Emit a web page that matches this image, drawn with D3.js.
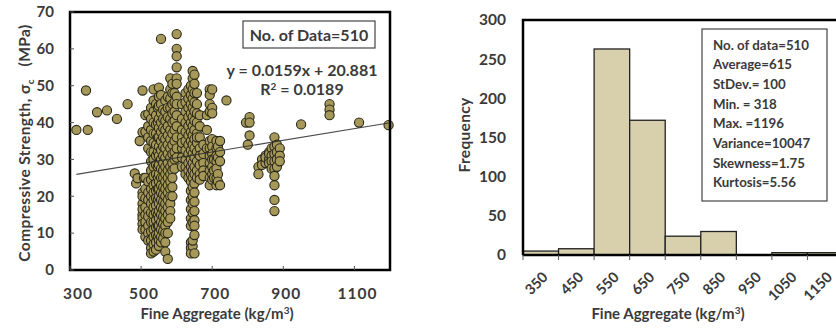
<!DOCTYPE html>
<html>
<head>
<meta charset="utf-8">
<script src="https://cdn.jsdelivr.net/npm/d3@7"></script>
<style>
  html, body { margin: 0; padding: 0; background: #fff; }
  svg { display: block; font-family: Lato, 'Open Sans', sans-serif; }
</style>
</head>
<body>
<div id="chart"></div>
<script>
// fine aggregate (kg/m3) of each vertical cluster, and the strengths (MPa) read in it
const colX = [318, 345, 350, 376, 404, 432, 462, 482, 486, 490, 496, 504, 508, 512, 520, 528, 535, 542, 547, 550, 556, 562, 568, 575, 582, 588, 594, 600,
  615, 625, 633, 640, 645, 650, 657, 665, 675, 685, 693, 700, 705, 712, 716, 722, 740, 795, 800, 805, 830, 840, 850, 860, 867, 875, 882, 890, 950, 1030, 1113, 1196];
const colY = [
  [38], [48.7], [38], [42.8], [43.3], [41], [45], [26.2], [23.5], [24.9], [35], [48.7, 37.4, 21, 18, 15, 14, 12.5, 11, 16.5, 20], [25],
  [25, 22, 19.5, 17, 15, 13, 11, 9, 42, 37.5],
  [24, 21, 19, 16, 14.5, 12, 10, 8, 33, 36, 39, 42.3],
  [44, 41, 38, 35, 32, 29.5, 27, 24.5, 22, 20, 18, 15.5, 13, 10.5, 8, 6, 4.5],
  [49, 46, 43, 40, 37, 34.5, 32, 30, 28, 25.5, 23, 21, 19, 17, 15, 13, 11, 9, 7, 5],
  [45, 42, 39.5, 37, 34, 31, 28.5, 26, 23.5, 21.5, 19.5, 17.5, 15.5, 13.5, 11.5, 9.5, 7.5, 5.5],
  [44, 40, 36, 32, 28, 25, 22, 19, 15, 12, 9],
  [49.5, 47, 44.5, 41, 38.5, 36, 33.5, 31, 28.5, 26, 24, 22, 20, 18, 16, 14, 12, 10, 8, 6.5],
  [62.7, 47.5, 45, 42.5, 40, 37.5, 35, 32.5, 30, 27.5, 25, 23, 21, 19, 17, 15, 13, 11, 9, 7.5],
  [43.5, 41, 38.5, 36, 33.5, 31, 29, 27, 25, 22.5, 20.5, 18.5, 16.5, 14.5, 12.5, 10.5, 8.5],
  [46, 43, 40.5, 38, 35.5, 33, 30.5, 28, 26, 24, 22, 20, 18, 16, 14, 12, 10, 7.5, 5],
  [47, 44, 41.5, 39, 36.5, 34, 31.5, 29, 27, 25, 23, 21, 19, 17, 15, 13, 10, 3],
  [52, 49, 46.5, 44, 41, 38, 35.5, 33, 30.5, 28, 26, 24, 22, 20, 18, 16, 14],
  [50.5, 48, 45, 42.5, 40, 37, 34, 31.5, 29, 27, 25, 22.5, 20],
  [48, 45.5, 43, 40.5, 38, 35, 32, 30, 27.5],
  [64, 60, 58, 55, 52, 50.5, 47, 45, 42, 39, 36, 33, 30.5],
  [45, 41, 38, 36, 33, 30.5, 28, 34.5],
  [48, 45.5, 43, 40, 37.5, 35, 32.5, 30, 28, 26],
  [49, 46.5, 44, 41.5, 39, 36.5, 34, 31.5, 29, 27, 25],
  [50, 47.5, 45, 42.5, 40, 37.5, 35, 32.5, 30, 28, 26, 24, 21.5, 19, 16.5, 14, 12, 7.5, 6, 4.5],
  [54, 52, 49, 46.5, 44, 41.5, 39, 36.5, 34, 31.5, 29, 27, 25, 22.5, 20, 18, 15.5, 13, 6.5, 8],
  [53, 50.5, 48, 45.5, 43, 40.5, 38, 35.5, 33, 30.5, 28, 26, 23.5, 21, 18.5, 16, 13.5, 12, 9.5, 4.5],
  [48, 45, 42.5, 40, 37, 34.5, 32, 29.5, 27, 25, 36],
  [42, 39, 36, 33, 31, 28.5, 26, 24.5],
  [34, 31.5, 29, 27, 25.5],
  [42, 38, 33],
  [49, 47.5, 45, 43, 35, 33, 31, 29, 27, 25, 23],
  [49, 44, 42.5, 35.5, 33.5, 31.5, 30, 28, 26, 24.5],
  [30, 27, 25],
  [35, 33, 31, 29.5, 27.5, 25, 23],
  [33.5, 30.5, 26, 24],
  [35, 32, 29.5, 23],
  [46], [40], [34], [41.5, 40, 36.5], [28, 26], [30, 28.5], [31, 29, 30.5], [32, 30, 31.5, 29], [33, 31, 29.5, 27.5],
  [36, 33.5, 31.5, 29.5, 27.5, 25.5, 23, 19, 16], [34, 32, 30, 28], [33, 31, 29.5],
  [39.5], [45, 43.5, 42], [40], [39.3]
];
const trendSlope = 0.0159, trendIntercept = 20.881;
const xTicksL = [300, 500, 700, 900, 1100];
const yTicksL = [0, 10, 20, 30, 40, 50, 60, 70];

// histogram of fine aggregate
const binStart = [300, 400, 500, 600, 700, 800, 900, 1000, 1100];
const binCount = [5, 8, 263, 172, 24, 30, 0, 3, 3];
const binLabels = ['350', '450', '550', '650', '750', '850', '950', '1050', '1150'];
const yTicksR = [0, 50, 100, 150, 200, 250, 300];
const statLines = ['No. of data=510', 'Average=615', 'StDev.= 100', 'Min. = 318', 'Max. =1196', 'Variance=10047', 'Skewness=1.75', 'Kurtosis=5.56'];

const textCol = '#3a3a3a';

const svg = d3.select('#chart').append('svg')
  .attr('width', 836).attr('height', 329);

// ---------- left: scatter ----------
let x = d3.scaleLinear().domain([300, 1200]).range([70, 390]);
let y = d3.scaleLinear().domain([0, 70]).range([270, 12]);

const left = svg.append('g');

let pts = [];
colX.forEach((cx, i) => colY[i].forEach(v => pts.push([cx, v])));

left.append('g').selectAll('circle')
  .data(pts)
  .enter()
  .append('circle')
  .attr('cx', d => x(d[0]))
  .attr('cy', d => y(d[1]))
  .attr('r', 4.6)
  .attr('fill', '#a59858')
  .attr('stroke', '#2a2818')
  .attr('stroke-width', 1.1);

// trend line sits over the points, like the original
left.append('line')
  .attr('x1', x(318)).attr('y1', y(trendSlope * 318 + trendIntercept))
  .attr('x2', x(1196)).attr('y2', y(trendSlope * 1196 + trendIntercept))
  .attr('stroke', '#2a2a2a').attr('stroke-width', 1.1).attr('stroke-opacity', 0.85);

left.append('rect')
  .attr('x', 70).attr('y', 12).attr('width', 320).attr('height', 258)
  .attr('fill', 'none').attr('stroke', '#000').attr('stroke-width', 2.5);

left.append('g').selectAll('line')
  .data(yTicksL)
  .enter().append('line')
  .attr('x1', 70).attr('x2', 74)
  .attr('y1', d => y(d)).attr('y2', d => y(d))
  .attr('stroke', '#555');

left.append('g').selectAll('line')
  .data(xTicksL)
  .enter().append('line')
  .attr('x1', d => x(d)).attr('x2', d => x(d))
  .attr('y1', 270).attr('y2', 266)
  .attr('stroke', '#555');

left.append('g')
  .attr('font-size', 15).attr('font-weight', 700).attr('fill', textCol)
  .attr('text-anchor', 'end')
  .selectAll('text')
  .data(yTicksL)
  .enter().append('text')
  .attr('x', 54).attr('y', d => y(d)).attr('dy', '0.35em')
  .text(d => d);

left.append('g')
  .attr('font-size', 15.5).attr('font-weight', 700).attr('fill', textCol)
  .attr('text-anchor', 'middle').attr('letter-spacing', 1)
  .selectAll('text')
  .data(xTicksL)
  .enter().append('text')
  .attr('x', d => x(d) + (d === 300 ? 8 : 3)).attr('y', 299)
  .text(d => d);

left.append('text')
  .attr('x', 217).attr('y', 319)
  .attr('text-anchor', 'middle').attr('font-size', 15).attr('font-weight', 700).attr('fill', textCol)
  .html('Fine Aggregate (kg/m<tspan font-size="10" dy="-5">3</tspan><tspan dy="5">)</tspan>');

left.append('text')
  .attr('transform', 'translate(30,143) rotate(-90)')
  .attr('text-anchor', 'middle').attr('font-size', 15.5).attr('font-weight', 700).attr('fill', textCol)
  .attr('letter-spacing', 0.4)
  .html('Compressive Strength, σ<tspan font-size="10" dy="4">c</tspan><tspan dy="-4" xml:space="preserve">   (MPa)</tspan>');

left.append('rect')
  .attr('x', 243).attr('y', 21).attr('width', 132).attr('height', 27)
  .attr('fill', '#fff').attr('stroke', '#444').attr('stroke-width', 1.2);
left.append('text')
  .attr('x', 309).attr('y', 40.5).attr('text-anchor', 'middle')
  .attr('font-size', 16).attr('font-weight', 700).attr('fill', textCol)
  .text('No. of Data=510');

left.append('text')
  .attr('x', 302).attr('y', 75.5).attr('text-anchor', 'middle')
  .attr('font-size', 16).attr('font-weight', 700).attr('fill', textCol)
  .text(`y = ${trendSlope}x + ${trendIntercept}`);
left.append('text')
  .attr('x', 302).attr('y', 95).attr('text-anchor', 'middle')
  .attr('font-size', 16).attr('font-weight', 700).attr('fill', textCol)
  .html('R<tspan font-size="10" dy="-5">2</tspan><tspan dy="5"> = 0.0189</tspan>');

// ---------- right: histogram ----------
let xh = d3.scaleLinear().domain([300, 1200]).range([523, 843]);
let yh = d3.scaleLinear().domain([0, 300]).range([255, 20]);

const right = svg.append('g');

right.append('g').selectAll('rect')
  .data(binStart)
  .enter().append('rect')
  .attr('x', d => xh(d))
  .attr('y', (d, i) => yh(binCount[i]))
  .attr('width', d => xh(d + 100) - xh(d))
  .attr('height', (d, i) => yh(0) - yh(binCount[i]))
  .attr('fill', '#d8d0ad')
  .attr('stroke', '#222')
  .attr('stroke-width', 1.3);

right.append('path')
  .attr('d', `M${xh(300)},${yh(0)}V${yh(300)}H836`)
  .attr('fill', 'none').attr('stroke', '#000').attr('stroke-width', 2.5);
right.append('line')
  .attr('x1', xh(300)).attr('x2', 836).attr('y1', yh(0)).attr('y2', yh(0))
  .attr('stroke', '#000').attr('stroke-width', 2.5);

right.append('g').selectAll('line')
  .data(binStart.concat([1200]))
  .enter().append('line')
  .attr('x1', d => xh(d)).attr('x2', d => xh(d))
  .attr('y1', yh(0)).attr('y2', yh(0) + 5)
  .attr('stroke', '#555');

right.append('g')
  .attr('font-size', 15.5).attr('font-weight', 700).attr('fill', textCol)
  .attr('text-anchor', 'end')
  .selectAll('text')
  .data(yTicksR)
  .enter().append('text')
  .attr('x', 506).attr('y', d => yh(d)).attr('dy', '0.35em')
  .text(d => d);

right.append('g')
  .attr('font-size', 14.5).attr('font-weight', 700).attr('fill', textCol)
  .attr('text-anchor', 'end')
  .selectAll('text')
  .data(binStart)
  .enter().append('text')
  .attr('transform', (d, i) => `translate(${xh(d + 50) + 8},${yh(0) + 23}) rotate(-45)`)
  .text((d, i) => binLabels[i]);

right.append('text')
  .attr('x', 668).attr('y', 319)
  .attr('text-anchor', 'middle').attr('font-size', 15).attr('font-weight', 700).attr('fill', textCol)
  .html('Fine Aggregate (kg/m<tspan font-size="10" dy="-5">3</tspan><tspan dy="5">)</tspan>');

right.append('text')
  .attr('transform', 'translate(470,135) rotate(-90)')
  .attr('text-anchor', 'middle').attr('font-size', 15.5).attr('font-weight', 700).attr('fill', textCol)
  .attr('letter-spacing', 0.3)
  .text('Frequency');

right.append('rect')
  .attr('x', 702).attr('y', 29).attr('width', 125).attr('height', 172)
  .attr('fill', '#fff').attr('stroke', '#444').attr('stroke-width', 1.2);

right.append('g')
  .attr('font-size', 13.3).attr('font-weight', 700).attr('fill', textCol)
  .selectAll('text')
  .data(statLines)
  .enter().append('text')
  .attr('x', 713).attr('y', (d, i) => 49.5 + i * 19.7)
  .text(d => d);
</script>
</body>
</html>
